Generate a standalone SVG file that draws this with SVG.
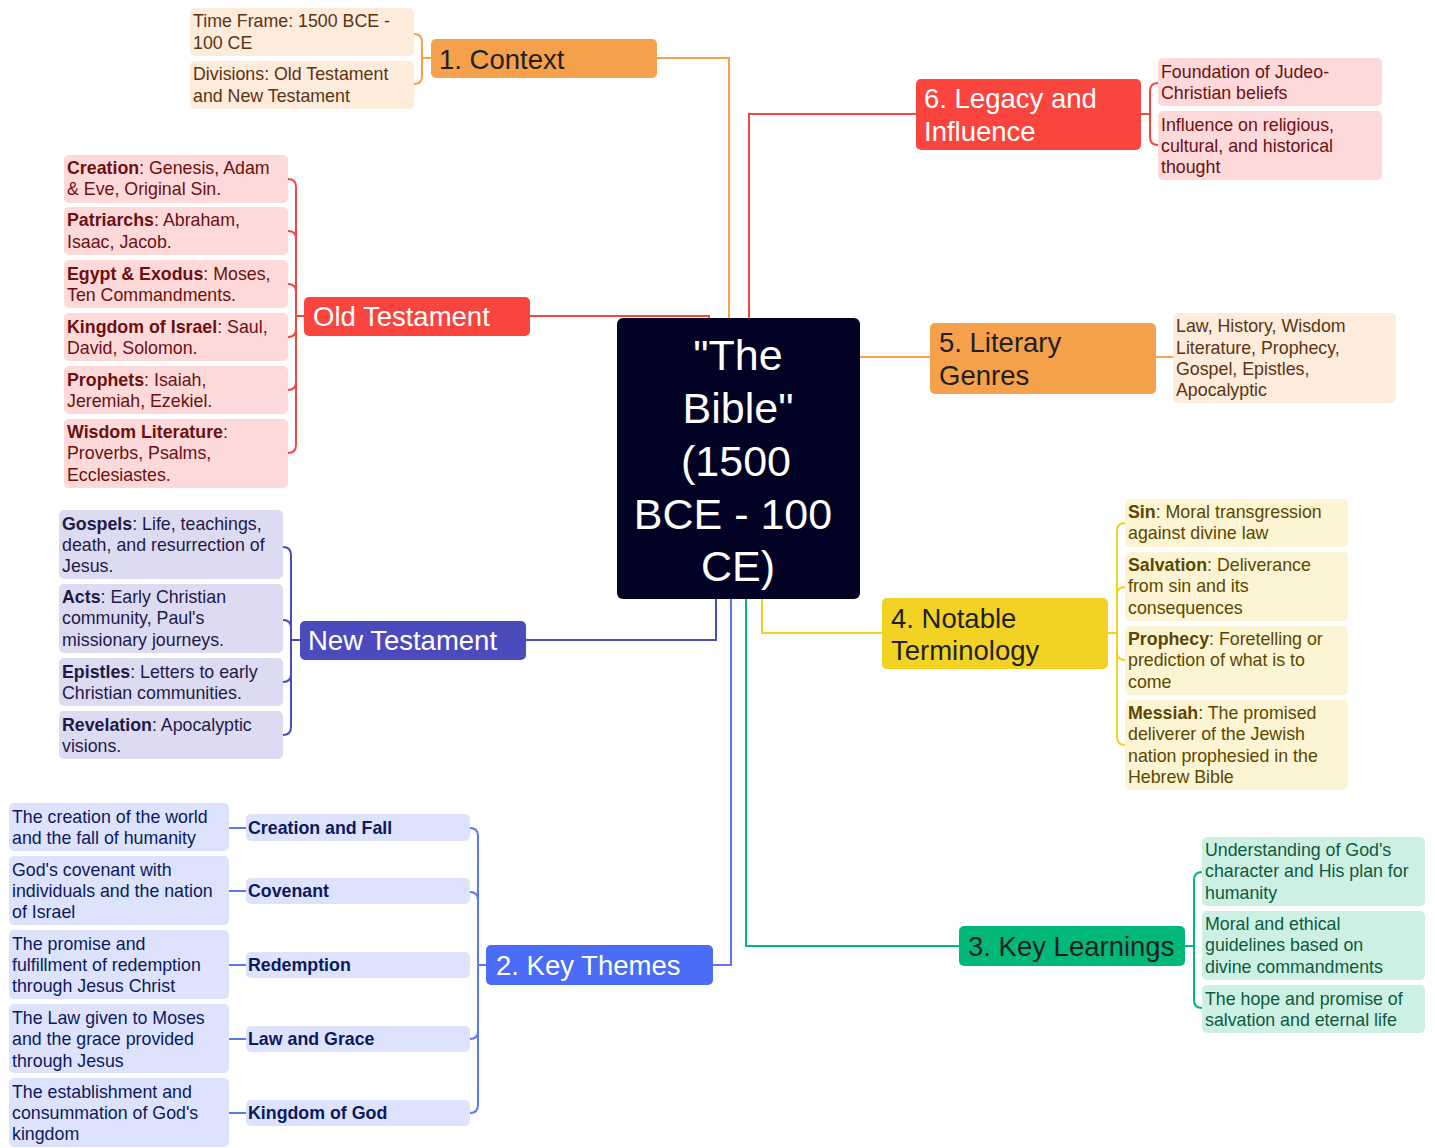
<svg xmlns="http://www.w3.org/2000/svg" width="1435" height="1148" viewBox="0 0 1435 1148">
  <style>
    text { font-family: "Liberation Sans", Arial, sans-serif; }
    .main { font-size: 27.5px; }
    .leaf { font-size: 17.8px; }
    .b { font-weight: bold; }
    .ln { fill: none; stroke-width: 2; }
    .or { stroke: #f5a04b; } .rd { stroke: #f9453e; } .in { stroke: #4c4bbd; }
    .bl { stroke: #5a78f7; } .ye { stroke: #f2d324; } .gr { stroke: #01b879; }
  </style>

  <!-- connectors -->
  <g id="connectors">
    <!-- centre to main topics -->
    <path class="ln or" d="M657 58 H729 V318"/>
    <path class="ln rd" d="M749 318 V114 H916"/>
    <path class="ln rd" d="M530 316 H709 V318"/>
    <path class="ln or" d="M860 357 H930"/>
    <path class="ln ye" d="M762 599 V633 H882"/>
    <path class="ln gr" d="M746 599 V946 H959"/>
    <path class="ln bl" d="M731 599 V965 H713"/>
    <path class="ln in" d="M716 599 V640 H526"/>

    <!-- Context brackets -->
    <path class="ln or" d="M414 34 Q422 34 422 42 V76 Q422 84 414 84 M422 58 H431"/>
    <!-- Old Testament brackets -->
    <path class="ln rd" d="M288 179 Q296 179 296 187 V445 Q296 453 288 453 M288 231 Q296 231 296 239 M288 284 Q296 284 296 292 M288 337 Q296 337 296 329 M288 390 Q296 390 296 382 M296 316 H304"/>
    <!-- New Testament brackets -->
    <path class="ln in" d="M283 547 Q291 547 291 555 V727 Q291 735 283 735 M283 620 Q291 620 291 628 M283 682 Q291 682 291 674 M291 640 H300"/>
    <!-- Key Themes brackets -->
    <path class="ln bl" d="M470 828 Q478 828 478 836 V1105 Q478 1113 470 1113 M470 892 Q478 892 478 900 M470 1039 Q478 1039 478 1031 M478 965 H486"/>
    <path class="ln bl" d="M229 828 H246 M229 891 H246 M229 965 H246 M229 1039 H246 M229 1113 H246"/>
    <!-- Legacy brackets -->
    <path class="ln rd" d="M1158 83 Q1150 83 1150 91 V137 Q1150 145 1158 145 M1141 114 H1150"/>
    <!-- Literary Genres -->
    <path class="ln or" d="M1156 357 H1173"/>
    <!-- Terminology brackets -->
    <path class="ln ye" d="M1125 523 Q1117 523 1117 531 V737 Q1117 745 1125 745 M1125 587 Q1117 587 1117 595 M1125 660 Q1117 660 1117 652 M1108 633 H1117"/>
    <!-- Key Learnings brackets -->
    <path class="ln gr" d="M1202 872 Q1194 872 1194 880 V1000 Q1194 1008 1202 1008 M1185 946 H1194"/>
  </g>

  <!-- central topic -->
  <g id="central">
    <rect x="617" y="318" width="243" height="281" rx="6" fill="#020224"/>
    <text x="738" y="370" font-size="43" fill="#ffffff" text-anchor="middle">"The</text>
    <text x="738" y="423" font-size="43" fill="#ffffff" text-anchor="middle">Bible"</text>
    <text x="736" y="476" font-size="43" fill="#ffffff" text-anchor="middle">(1500</text>
    <text x="733" y="529" font-size="43" fill="#ffffff" text-anchor="middle">BCE - 100</text>
    <text x="738" y="581" font-size="43" fill="#ffffff" text-anchor="middle">CE)</text>
  </g>

  <!-- 1. Context -->
  <g id="context">
    <rect x="431" y="39" width="226" height="39" rx="5" fill="#f5a04b"/>
    <text class="main" x="439" y="69" fill="#1f1f1f">1. Context</text>
  </g>
  <g id="context-timeframe">
    <rect x="190" y="8" width="224" height="48" rx="5" fill="#fdebdc"/>
    <text class="leaf" fill="#5b3411"><tspan x="193" y="27">Time Frame: 1500 BCE -</tspan><tspan x="193" y="49">100 CE</tspan></text>
  </g>
  <g id="context-divisions">
    <rect x="190" y="61" width="224" height="48" rx="5" fill="#fdebdc"/>
    <text class="leaf" fill="#5b3411"><tspan x="193" y="80">Divisions: Old Testament</tspan><tspan x="193" y="102">and New Testament</tspan></text>
  </g>

  <!-- Old Testament -->
  <g id="old-testament">
    <rect x="304" y="297" width="226" height="39" rx="5" fill="#f9453e"/>
    <text class="main" x="313" y="326" fill="#ffffff">Old Testament</text>
  </g>
  <g id="ot-creation">
    <rect x="64" y="155" width="224" height="48" rx="5" fill="#fdd9d9"/>
    <text class="leaf" fill="#6d1010"><tspan x="67" y="174"><tspan class="b">Creation</tspan>: Genesis, Adam</tspan><tspan x="67" y="195">&amp; Eve, Original Sin.</tspan></text>
  </g>
  <g id="ot-patriarchs">
    <rect x="64" y="207" width="224" height="48" rx="5" fill="#fdd9d9"/>
    <text class="leaf" fill="#6d1010"><tspan x="67" y="226"><tspan class="b">Patriarchs</tspan>: Abraham,</tspan><tspan x="67" y="248">Isaac, Jacob.</tspan></text>
  </g>
  <g id="ot-exodus">
    <rect x="64" y="260" width="224" height="48" rx="5" fill="#fdd9d9"/>
    <text class="leaf" fill="#6d1010"><tspan x="67" y="280"><tspan class="b">Egypt &amp; Exodus</tspan>: Moses,</tspan><tspan x="67" y="301">Ten Commandments.</tspan></text>
  </g>
  <g id="ot-kingdom">
    <rect x="64" y="313" width="224" height="48" rx="5" fill="#fdd9d9"/>
    <text class="leaf" fill="#6d1010"><tspan x="67" y="333"><tspan class="b">Kingdom of Israel</tspan>: Saul,</tspan><tspan x="67" y="354">David, Solomon.</tspan></text>
  </g>
  <g id="ot-prophets">
    <rect x="64" y="366" width="224" height="48" rx="5" fill="#fdd9d9"/>
    <text class="leaf" fill="#6d1010"><tspan x="67" y="386"><tspan class="b">Prophets</tspan>: Isaiah,</tspan><tspan x="67" y="407">Jeremiah, Ezekiel.</tspan></text>
  </g>
  <g id="ot-wisdom">
    <rect x="64" y="419" width="224" height="69" rx="5" fill="#fdd9d9"/>
    <text class="leaf" fill="#6d1010"><tspan x="67" y="438"><tspan class="b">Wisdom Literature</tspan>:</tspan><tspan x="67" y="459">Proverbs, Psalms,</tspan><tspan x="67" y="481">Ecclesiastes.</tspan></text>
  </g>

  <!-- New Testament -->
  <g id="new-testament">
    <rect x="300" y="621" width="226" height="39" rx="5" fill="#4c4bbd"/>
    <text class="main" x="308" y="650" fill="#ffffff">New Testament</text>
  </g>
  <g id="nt-gospels">
    <rect x="59" y="510" width="224" height="69" rx="5" fill="#dddbf1"/>
    <text class="leaf" fill="#1d1a4a"><tspan x="62" y="530"><tspan class="b">Gospels</tspan>: Life, teachings,</tspan><tspan x="62" y="551">death, and resurrection of</tspan><tspan x="62" y="572">Jesus.</tspan></text>
  </g>
  <g id="nt-acts">
    <rect x="59" y="584" width="224" height="69" rx="5" fill="#dddbf1"/>
    <text class="leaf" fill="#1d1a4a"><tspan x="62" y="603"><tspan class="b">Acts</tspan>: Early Christian</tspan><tspan x="62" y="624">community, Paul's</tspan><tspan x="62" y="646">missionary journeys.</tspan></text>
  </g>
  <g id="nt-epistles">
    <rect x="59" y="658" width="224" height="48" rx="5" fill="#dddbf1"/>
    <text class="leaf" fill="#1d1a4a"><tspan x="62" y="678"><tspan class="b">Epistles</tspan>: Letters to early</tspan><tspan x="62" y="699">Christian communities.</tspan></text>
  </g>
  <g id="nt-revelation">
    <rect x="59" y="711" width="224" height="48" rx="5" fill="#dddbf1"/>
    <text class="leaf" fill="#1d1a4a"><tspan x="62" y="731"><tspan class="b">Revelation</tspan>: Apocalyptic</tspan><tspan x="62" y="752">visions.</tspan></text>
  </g>

  <!-- 2. Key Themes -->
  <g id="key-themes">
    <rect x="486" y="945" width="227" height="40" rx="5" fill="#4a6cf7"/>
    <text class="main" x="496" y="975" fill="#ffffff">2. Key Themes</text>
  </g>
  <g id="theme-creation">
    <rect x="246" y="814" width="224" height="27" rx="5" fill="#dde3fc"/>
    <text class="leaf b" x="248" y="834" fill="#0b1a5e">Creation and Fall</text>
  </g>
  <g id="theme-covenant">
    <rect x="246" y="878" width="224" height="26" rx="5" fill="#dde3fc"/>
    <text class="leaf b" x="248" y="897" fill="#0b1a5e">Covenant</text>
  </g>
  <g id="theme-redemption">
    <rect x="246" y="952" width="224" height="26" rx="5" fill="#dde3fc"/>
    <text class="leaf b" x="248" y="971" fill="#0b1a5e">Redemption</text>
  </g>
  <g id="theme-law">
    <rect x="246" y="1026" width="224" height="26" rx="5" fill="#dde3fc"/>
    <text class="leaf b" x="248" y="1045" fill="#0b1a5e">Law and Grace</text>
  </g>
  <g id="theme-kingdom">
    <rect x="246" y="1100" width="224" height="26" rx="5" fill="#dde3fc"/>
    <text class="leaf b" x="248" y="1119" fill="#0b1a5e">Kingdom of God</text>
  </g>
  <g id="theme-creation-desc">
    <rect x="9" y="803" width="220" height="48" rx="5" fill="#dde3fc"/>
    <text class="leaf" fill="#0b1a5e"><tspan x="12" y="823">The creation of the world</tspan><tspan x="12" y="844">and the fall of humanity</tspan></text>
  </g>
  <g id="theme-covenant-desc">
    <rect x="9" y="856" width="220" height="69" rx="5" fill="#dde3fc"/>
    <text class="leaf" fill="#0b1a5e"><tspan x="12" y="876">God's covenant with</tspan><tspan x="12" y="897">individuals and the nation</tspan><tspan x="12" y="918">of Israel</tspan></text>
  </g>
  <g id="theme-redemption-desc">
    <rect x="9" y="930" width="220" height="69" rx="5" fill="#dde3fc"/>
    <text class="leaf" fill="#0b1a5e"><tspan x="12" y="950">The promise and</tspan><tspan x="12" y="971">fulfillment of redemption</tspan><tspan x="12" y="992">through Jesus Christ</tspan></text>
  </g>
  <g id="theme-law-desc">
    <rect x="9" y="1004" width="220" height="69" rx="5" fill="#dde3fc"/>
    <text class="leaf" fill="#0b1a5e"><tspan x="12" y="1024">The Law given to Moses</tspan><tspan x="12" y="1045">and the grace provided</tspan><tspan x="12" y="1067">through Jesus</tspan></text>
  </g>
  <g id="theme-kingdom-desc">
    <rect x="9" y="1078" width="220" height="69" rx="5" fill="#dde3fc"/>
    <text class="leaf" fill="#0b1a5e"><tspan x="12" y="1098">The establishment and</tspan><tspan x="12" y="1119">consummation of God's</tspan><tspan x="12" y="1140">kingdom</tspan></text>
  </g>

  <!-- 6. Legacy and Influence -->
  <g id="legacy">
    <rect x="916" y="79" width="225" height="71" rx="5" fill="#f9453e"/>
    <text class="main" fill="#ffffff"><tspan x="924" y="108">6. Legacy and</tspan><tspan x="924" y="141">Influence</tspan></text>
  </g>
  <g id="legacy-foundation">
    <rect x="1158" y="58" width="224" height="48" rx="5" fill="#fdd9d9"/>
    <text class="leaf" fill="#6d1010"><tspan x="1161" y="78">Foundation of Judeo-</tspan><tspan x="1161" y="99">Christian beliefs</tspan></text>
  </g>
  <g id="legacy-influence">
    <rect x="1158" y="111" width="224" height="69" rx="5" fill="#fdd9d9"/>
    <text class="leaf" fill="#6d1010"><tspan x="1161" y="131">Influence on religious,</tspan><tspan x="1161" y="152">cultural, and historical</tspan><tspan x="1161" y="173">thought</tspan></text>
  </g>

  <!-- 5. Literary Genres -->
  <g id="literary-genres">
    <rect x="930" y="323" width="226" height="71" rx="5" fill="#f5a04b"/>
    <text class="main" fill="#1f1f1f"><tspan x="939" y="352">5. Literary</tspan><tspan x="939" y="385">Genres</tspan></text>
  </g>
  <g id="genres-list">
    <rect x="1173" y="313" width="223" height="90" rx="5" fill="#fdebdc"/>
    <text class="leaf" fill="#5b3411"><tspan x="1176" y="332">Law, History, Wisdom</tspan><tspan x="1176" y="354">Literature, Prophecy,</tspan><tspan x="1176" y="375">Gospel, Epistles,</tspan><tspan x="1176" y="396">Apocalyptic</tspan></text>
  </g>

  <!-- 4. Notable Terminology -->
  <g id="terminology">
    <rect x="882" y="598" width="226" height="71" rx="5" fill="#f2d324"/>
    <text class="main" fill="#1f1f1f"><tspan x="891" y="628">4. Notable</tspan><tspan x="891" y="660">Terminology</tspan></text>
  </g>
  <g id="term-sin">
    <rect x="1125" y="499" width="223" height="48" rx="5" fill="#fcf4d3"/>
    <text class="leaf" fill="#5a4800"><tspan x="1128" y="518"><tspan class="b">Sin</tspan>: Moral transgression</tspan><tspan x="1128" y="539">against divine law</tspan></text>
  </g>
  <g id="term-salvation">
    <rect x="1125" y="552" width="223" height="69" rx="5" fill="#fcf4d3"/>
    <text class="leaf" fill="#5a4800"><tspan x="1128" y="571"><tspan class="b">Salvation</tspan>: Deliverance</tspan><tspan x="1128" y="592">from sin and its</tspan><tspan x="1128" y="614">consequences</tspan></text>
  </g>
  <g id="term-prophecy">
    <rect x="1125" y="626" width="223" height="69" rx="5" fill="#fcf4d3"/>
    <text class="leaf" fill="#5a4800"><tspan x="1128" y="645"><tspan class="b">Prophecy</tspan>: Foretelling or</tspan><tspan x="1128" y="666">prediction of what is to</tspan><tspan x="1128" y="688">come</tspan></text>
  </g>
  <g id="term-messiah">
    <rect x="1125" y="700" width="223" height="90" rx="5" fill="#fcf4d3"/>
    <text class="leaf" fill="#5a4800"><tspan x="1128" y="719"><tspan class="b">Messiah</tspan>: The promised</tspan><tspan x="1128" y="740">deliverer of the Jewish</tspan><tspan x="1128" y="762">nation prophesied in the</tspan><tspan x="1128" y="783">Hebrew Bible</tspan></text>
  </g>

  <!-- 3. Key Learnings -->
  <g id="key-learnings">
    <rect x="959" y="926" width="226" height="40" rx="5" fill="#01b879"/>
    <text class="main" x="968" y="956" fill="#1f1f1f">3. Key Learnings</text>
  </g>
  <g id="learning-character">
    <rect x="1202" y="837" width="223" height="69" rx="5" fill="#cdf0e4"/>
    <text class="leaf" fill="#0d5a3d"><tspan x="1205" y="856">Understanding of God's</tspan><tspan x="1205" y="877">character and His plan for</tspan><tspan x="1205" y="899">humanity</tspan></text>
  </g>
  <g id="learning-ethics">
    <rect x="1202" y="911" width="223" height="69" rx="5" fill="#cdf0e4"/>
    <text class="leaf" fill="#0d5a3d"><tspan x="1205" y="930">Moral and ethical</tspan><tspan x="1205" y="951">guidelines based on</tspan><tspan x="1205" y="973">divine commandments</tspan></text>
  </g>
  <g id="learning-hope">
    <rect x="1202" y="985" width="223" height="48" rx="5" fill="#cdf0e4"/>
    <text class="leaf" fill="#0d5a3d"><tspan x="1205" y="1005">The hope and promise of</tspan><tspan x="1205" y="1026">salvation and eternal life</tspan></text>
  </g>
</svg>
